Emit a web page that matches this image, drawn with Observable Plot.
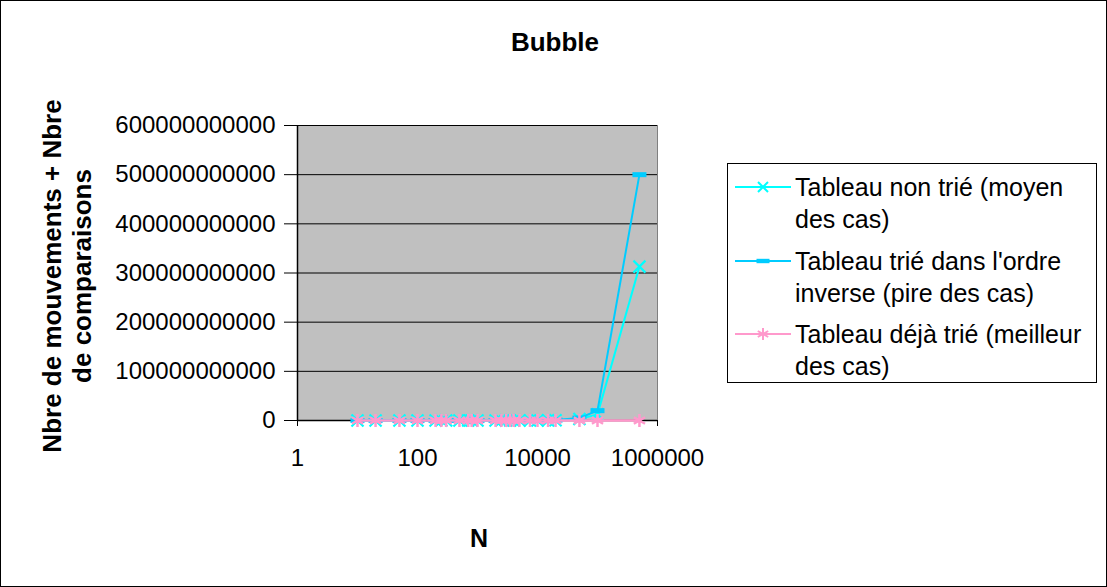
<!DOCTYPE html>
<html>
<head>
<meta charset="utf-8">
<script src="https://cdn.jsdelivr.net/npm/d3@7"></script>
<script src="https://cdn.jsdelivr.net/npm/@observablehq/plot@0.6"></script>
<style>
  html, body { margin: 0; padding: 0; background: #fff; }
  #wrap { position: relative; width: 1107px; height: 587px; font-family: "Liberation Sans", Arial, sans-serif; color: #000; overflow: hidden; }
  #wrap svg.plot { position: absolute; left: 0; top: 0; }
  .abs { position: absolute; white-space: nowrap; }
  #border { position: absolute; left: 0; top: 0; width: 1107px; height: 587px; box-sizing: border-box; border: 1px solid #000; pointer-events: none; }
</style>
</head>
<body>
<div id="wrap"></div>
<script>
// ---- data ----
const titleText = "Bubble";
const xLabel = "N";
const yLabelLines = ["Nbre de mouvements + Nbre", "de comparaisons"];

const N = [10, 20, 50, 100, 200, 250, 300, 500, 700, 800, 1000, 2000, 2500, 3000, 3500, 4000, 5000, 7500, 10000, 15000, 20000, 50000, 100000, 500000];

// Tableau non trié (moyen des cas)
const avgOps = [130, 520, 3200, 12600, 50000, 78000, 112000, 312000, 612000, 800000, 1250000, 5000000, 7800000, 11250000, 15300000, 20000000, 31250000, 70300000, 125000000, 281000000, 500000000, 3100000000, 12500000000, 313000000000];
// Tableau trié dans l'ordre inverse (pire des cas)
const worstOps = [200, 800, 5000, 20000, 80000, 125000, 180000, 500000, 980000, 1280000, 2000000, 8000000, 12500000, 18000000, 24500000, 32000000, 50000000, 112500000, 200000000, 450000000, 800000000, 5000000000, 20000000000, 500000000000];
// Tableau déjà trié (meilleur des cas)
const bestOps = [9, 19, 49, 99, 199, 249, 299, 499, 699, 799, 999, 1999, 2499, 2999, 3499, 3999, 4999, 7499, 9999, 14999, 19999, 49999, 99999, 499999];

const seriesNames = [
  "Tableau non trié (moyen\ndes cas)",
  "Tableau trié dans l'ordre\ninverse (pire des cas)",
  "Tableau déjà trié (meilleur\ndes cas)"
];
const seriesColors = ["#00FFFF", "#00CCFF", "#FF99CC"];

const xTicks = [1, 100, 10000, 1000000];
const yTicks = [0, 100000000000, 200000000000, 300000000000, 400000000000, 500000000000, 600000000000];

// ---- build tables ----
const avgData = N.map((n, i) => ({n, v: avgOps[i]}));
const worstData = N.map((n, i) => ({n, v: worstOps[i]}));
const bestData = N.map((n, i) => ({n, v: bestOps[i]}));

const dashSymbol = {
  draw(ctx, size) {
    const w = 7, h = 2.5;
    ctx.moveTo(-w, -h); ctx.lineTo(w, -h); ctx.lineTo(w, h); ctx.lineTo(-w, h); ctx.closePath();
  }
};
const timesSymbol = {
  draw(ctx, size) {
    const r = 6;
    ctx.moveTo(-r, -r); ctx.lineTo(r, r); ctx.moveTo(-r, r); ctx.lineTo(r, -r);
  }
};
const asteriskSymbol = {
  draw(ctx, size) {
    const r = 6.5, a = 5.6, b = 3.25;
    ctx.moveTo(0, -r); ctx.lineTo(0, r);
    ctx.moveTo(-a, -b); ctx.lineTo(a, b);
    ctx.moveTo(-a, b); ctx.lineTo(a, -b);
  }
};

const chart = Plot.plot({
  width: 1107,
  height: 587,
  marginLeft: 297,
  marginRight: 450,
  marginTop: 125,
  marginBottom: 167,
  style: {fontFamily: "'Liberation Sans', Arial, sans-serif", fontSize: "24px", color: "#000", background: "transparent", overflow: "visible"},
  x: {type: "log", domain: [1, 1000000]},
  y: {domain: [0, 600000000000]},
  marks: [
    Plot.frame({fill: "#C0C0C0", stroke: "#808080"}),
    Plot.ruleY(yTicks.slice(1), {stroke: "#000", strokeWidth: 1}),
    Plot.axisY({ticks: yTicks, tickFormat: d => String(d), tickSize: 13, tickPadding: 9, label: null, fontSize: 24}),
    Plot.axisX({ticks: xTicks, tickFormat: d => String(d), tickSize: 6, tickPadding: 22, label: null, fontSize: 24}),
    Plot.ruleY([0], {stroke: "#000", strokeWidth: 1.5}),
    Plot.ruleX([1], {stroke: "#000", strokeWidth: 1.5}),
    Plot.line(avgData, {x: "n", y: "v", stroke: seriesColors[0], strokeWidth: 2}),
    Plot.dot(avgData, {x: "n", y: "v", symbol: timesSymbol, fill: "none", stroke: seriesColors[0], strokeWidth: 2.2}),
    Plot.line(worstData, {x: "n", y: "v", stroke: seriesColors[1], strokeWidth: 2}),
    Plot.dot(worstData, {x: "n", y: "v", symbol: dashSymbol, fill: seriesColors[1], stroke: "none"}),
    Plot.line(bestData, {x: "n", y: "v", stroke: seriesColors[2], strokeWidth: 2.5}),
    Plot.dot(bestData, {x: "n", y: "v", symbol: asteriskSymbol, fill: "none", stroke: seriesColors[2], strokeWidth: 2.5})
  ]
});
chart.classList.add("plot");
const wrap = document.getElementById("wrap");
wrap.appendChild(chart);

// Title
const t = document.createElement("div");
t.className = "abs";
t.textContent = titleText;
Object.assign(t.style, {left: "555px", top: "42px", transform: "translate(-50%,-50%)", fontWeight: "bold", fontSize: "26px"});
wrap.appendChild(t);

// Y label
const yl = document.createElement("div");
yl.className = "abs";
yl.innerHTML = yLabelLines.map(s => `<div>${s}</div>`).join("");
Object.assign(yl.style, {left: "67px", top: "276px", transform: "translate(-50%,-50%) rotate(-90deg)", fontWeight: "bold", fontSize: "26px", lineHeight: "30px", textAlign: "center"});
wrap.appendChild(yl);

// X label
const xl = document.createElement("div");
xl.className = "abs";
xl.textContent = xLabel;
Object.assign(xl.style, {left: "479px", top: "538px", transform: "translate(-50%,-50%)", fontWeight: "bold", fontSize: "25px"});
wrap.appendChild(xl);

// Legend
const lg = document.createElement("div");
lg.className = "abs";
Object.assign(lg.style, {left: "727px", top: "163px", width: "370px", height: "220px", boxSizing: "border-box", border: "1px solid #000", background: "#fff"});
wrap.appendChild(lg);

const symbolsSvg = [
  c => `<path d="M-5,-5L5,5M-5,5L5,-5" stroke="${c}" stroke-width="2" fill="none"/>`,
  c => `<rect x="-6.5" y="-2.2" width="13" height="4.4" fill="${c}"/>`,
  c => `<path d="M0,-6V6M-5.2,-3L5.2,3M-5.2,3L5.2,-3" stroke="${c}" stroke-width="2" fill="none"/>`
];
const entryTops = [171, 245, 318];
seriesNames.forEach((name, i) => {
  const e = document.createElement("div");
  e.className = "abs";
  Object.assign(e.style, {left: "735px", top: entryTops[i] + "px"});
  e.innerHTML = `<svg width="56" height="32" style="position:absolute;left:0;top:0">
      <line x1="0" x2="56" y1="16" y2="16" stroke="${seriesColors[i]}" stroke-width="2"/>
      <g transform="translate(28,16)">${symbolsSvg[i](seriesColors[i])}</g></svg>
      <div style="position:absolute;left:60px;top:0;white-space:pre;font-size:25px;line-height:32px">${name}</div>`;
  wrap.appendChild(e);
});

const b = document.createElement("div");
b.id = "border";
wrap.appendChild(b);
</script>
</body>
</html>
